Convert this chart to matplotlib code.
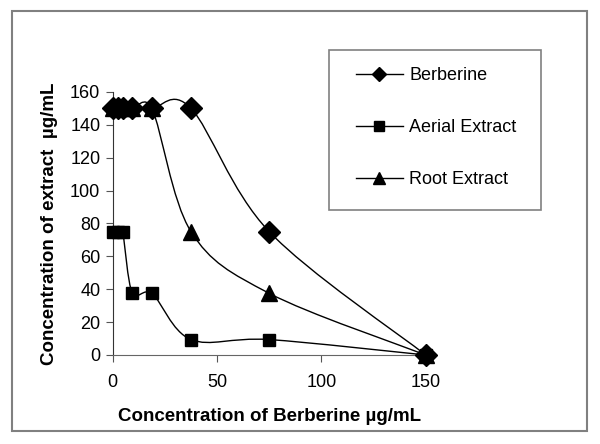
import matplotlib
matplotlib.use("Agg")
import matplotlib.pyplot as plt
from matplotlib.path import Path
from matplotlib.patches import PathPatch, Rectangle
from matplotlib.lines import Line2D
import numpy as np

plt.rcParams["font.family"] = ["Liberation Sans", "DejaVu Sans"]

# berberine concentrations (µg/mL), two-fold dilutions
conc = [0, 2.34, 4.69, 9.375, 18.75, 37.5, 75, 150]
berberine = [150, 150, 150, 150, 150, 150, 75, 0]
aerial = [75, 75, 75, 37.5, 37.5, 9.375, 9.375, 0]
root = [150, 150, 150, 150, 150, 75, 37.5, 0]

series = [
    ("Berberine", berberine, "D", 11, 7),
    ("Aerial Extract", aerial, "s", 8, 6.5),
    ("Root Extract", root, "^", 12, 8.5),
]


def smooth_path(ax, x, y):
    # excel-style smoothed line: cubic bezier built in pixel space,
    # control arms at 1/6 of the neighbour chord, clamped to the segment length
    p = ax.transData.transform(np.column_stack([x, y]).astype(float))
    n = len(p)
    verts = [p[0]]
    codes = [Path.MOVETO]
    for i in range(n - 1):
        p0 = p[i - 1] if i > 0 else p[i]
        p1, p2 = p[i], p[i + 1]
        p3 = p[i + 2] if i + 2 < n else p[i + 1]
        a = (p2 - p0) / 6
        b = (p3 - p1) / 6
        seg = np.hypot(*(p2 - p1))
        tot = np.hypot(*a) + np.hypot(*b)
        if tot > seg > 0:
            a, b = a * seg / tot, b * seg / tot
        verts += [p1 + a, p2 - b, p2]
        codes += [Path.CURVE4] * 3
    verts = ax.transData.inverted().transform(np.array(verts))
    return Path(verts, codes)


fig = plt.figure(figsize=(6, 4.44), dpi=100)
ax = fig.add_axes([0.188, 0.2005, 0.5215, 0.5923])
ax.set_xlim(0, 150)
ax.set_ylim(0, 160)

handles = []
for name, vals, mk, ms, lms in series:
    ax.add_patch(PathPatch(smooth_path(ax, conc, vals), fc="none", ec="black", lw=1.0))
    ax.plot(conc, vals, ls="none", marker=mk, ms=ms, color="black", clip_on=False, zorder=3)
    handles.append(Line2D([], [], color="black", lw=1.0, marker=mk, ms=lms, label=name))

ax.set_xticks([0, 50, 100, 150])
ax.set_yticks(range(0, 161, 20))
for s in ("top", "right"):
    ax.spines[s].set_visible(False)
ax.spines["left"].set_color("#333333")
ax.spines["bottom"].set_color("#666666")
ax.tick_params(labelsize=13, length=5, color="#555555")
ax.tick_params(axis="x", pad=9)
ax.tick_params(axis="y", pad=4)
ax.set_xlabel("Concentration of Berberine µg/mL", fontsize=13.5, fontweight="bold", labelpad=12)
ax.set_ylabel("Concentration of extract  µg/mL", fontsize=13.5, fontweight="bold", labelpad=9)

leg = fig.legend(handles=handles, loc="upper left", bbox_to_anchor=(356 / 600, 1 - 67 / 444),
                 fontsize=13, frameon=False, handlelength=2.6, handletextpad=0.35,
                 labelspacing=1.95, borderpad=0, borderaxespad=0)

# legend box and chart-area border
fig.patches.append(Rectangle((329 / 600, 1 - 210 / 444), 212 / 600, 160 / 444,
                             transform=fig.transFigure, fill=False, ec="#808080", lw=1.2))
fig.patches.append(Rectangle((12 / 600, 1 - 431 / 444), 575 / 600, 420 / 444,
                             transform=fig.transFigure, fill=False, ec="#808080", lw=1.5))

fig.savefig("out.png", dpi=100)
